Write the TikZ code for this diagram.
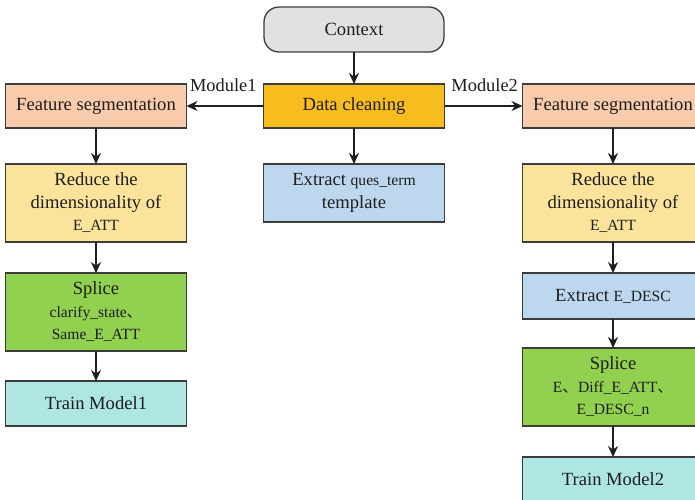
\documentclass[tikz,border=0pt]{standalone}
\usepackage{fontspec}
\setmainfont{Liberation Serif}
\newfontfamily\cjk{Noto Sans CJK SC}
\usetikzlibrary{arrows.meta,positioning}
\definecolor{kant}{HTML}{3C3C3C}
\definecolor{tekst}{HTML}{1E1E1E}
\definecolor{graa}{HTML}{E1E1E1}
\definecolor{guld}{HTML}{F7BD1F}
\definecolor{fersken}{HTML}{F8CBAD}
\definecolor{blaa}{HTML}{BDD7EE}
\definecolor{gul}{HTML}{FAE49C}
\definecolor{groen}{HTML}{92D050}
\definecolor{turkis}{HTML}{AEE6E4}
\newcommand{\lille}[1]{{\fontsize{15.6}{21}\selectfont #1}}
\newcommand{\komma}{{\cjk 、}}
\tikzset{
    >={Stealth[length=11pt,width=10pt]},
    kasse/.style={
           rectangle,
           draw=kant, line width=1.3pt,
           minimum width=181pt,
           minimum height=44pt,
           inner sep=2pt, outer sep=0pt,
           text=tekst,
           align=center,
           font=\fontsize{18.6}{22.5}\selectfont},
    pil/.style={
           ->,
           line width=1.9pt,
           draw=black!88},
    etiket/.style={
           inner sep=0pt,
           text=tekst,
           font=\fontsize{18.4}{22}\selectfont}
}

\begin{document}
\begin{tikzpicture}[node distance=32pt]
        \useasboundingbox (0,0) rectangle (695pt,-499pt);
        \clip (0,0) rectangle (695pt,-499pt);
        % midten
        \node[kasse, fill=graa, rounded corners=15pt, minimum width=180pt, minimum height=45pt] (ctx) at (354pt,-29.5pt) {Context};
        \node[kasse, fill=guld, below=32pt of ctx] (dc) {Data cleaning};
        \node[kasse, fill=blaa, minimum height=58pt, below=36pt of dc] (ext) {Extract \lille{ques\_term}\\template};
        % modul 1
        \node[kasse, fill=fersken, left=77pt of dc] (fsl) {Feature segmentation};
        \node[kasse, fill=gul, minimum height=78pt, below=36pt of fsl] (rdl) {Reduce the\\dimensionality of\\\lille{E\_ATT}};
        \node[kasse, fill=groen, minimum height=78pt, below=31pt of rdl] (spl) {Splice\\\lille{clarify\_state\komma}\\\lille{Same\_E\_ATT}};
        \node[kasse, fill=turkis, minimum height=45pt, below=30pt of spl] (trl) {Train Model1};
        % modul 2
        \node[kasse, fill=fersken, right=78pt of dc] (fsr) {Feature segmentation};
        \node[kasse, fill=gul, minimum height=78pt, below=36pt of fsr] (rdr) {Reduce the\\dimensionality of\\\lille{E\_ATT}};
        \node[kasse, fill=blaa, minimum height=46pt, below=31pt of rdr] (exr) {Extract \lille{E\_DESC}};
        \node[kasse, fill=groen, minimum height=78pt, below=29pt of exr] (spr) {Splice\\\lille{E\komma Diff\_E\_ATT\komma}\\\lille{E\_DESC\_n}};
        \node[kasse, fill=turkis, minimum height=45pt, below=31pt of spr] (trr) {Train Model2};
        % pile
        \draw[pil] (ctx) -- (dc);
        \draw[pil] (dc) -- (ext);
        \draw[pil] (dc) -- node[etiket, pos=0, anchor=base east, xshift=-6pt, yshift=15pt] (m1) {Module1} (fsl);
        \draw[pil] (dc) -- node[etiket, pos=0, anchor=base west, xshift=6pt, yshift=15pt] (m2) {Module2} (fsr);
        \draw[pil] (fsl) -- (rdl);
        \draw[pil] (rdl) -- (spl);
        \draw[pil] (spl) -- (trl);
        \draw[pil] (fsr) -- (rdr);
        \draw[pil] (rdr) -- (exr);
        \draw[pil] (exr) -- (spr);
        \draw[pil] (spr) -- (trr);
\end{tikzpicture}
\end{document}
